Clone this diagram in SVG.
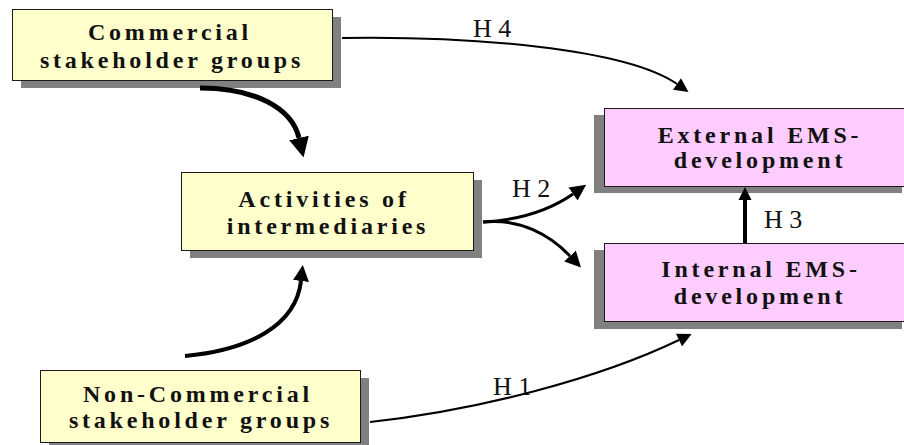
<svg xmlns="http://www.w3.org/2000/svg" width="904" height="445" viewBox="0 0 904 445">
  <style>
    .shadow { fill: #808080; }
    .yellow { fill: #FFFFCC; stroke: #1a1a1a; stroke-width: 1; }
    .pink { fill: #FFCCFF; stroke: #1a1a1a; stroke-width: 1; }
    .lbl { font-family: "Liberation Serif", "Times New Roman", serif; font-weight: bold; font-size: 24px; letter-spacing: 3.8px; fill: #111; text-anchor: middle; }
    .h { font-family: "Liberation Serif", "Times New Roman", serif; font-size: 26px; fill: #111; }
    .c { fill: none; stroke: #000; }
  </style>
  <defs>
    <marker id="aThin" markerUnits="userSpaceOnUse" viewBox="0 0 10 10" refX="0" refY="5" markerWidth="15" markerHeight="14" orient="auto">
      <path d="M0,0 L10,5 L0,10 z" fill="#000"/>
    </marker>
    <marker id="aMid" markerUnits="userSpaceOnUse" viewBox="0 0 10 10" refX="0" refY="5" markerWidth="16" markerHeight="17" orient="auto">
      <path d="M0,0 L10,5 L0,10 z" fill="#000"/>
    </marker>
    <marker id="aBig" markerUnits="userSpaceOnUse" viewBox="0 0 10 10" refX="0" refY="5" markerWidth="20" markerHeight="26" orient="auto">
      <path d="M0,0 L10,5 L0,10 z" fill="#000"/>
    </marker>
    <marker id="aUp" markerUnits="userSpaceOnUse" viewBox="0 0 10 10" refX="0" refY="5" markerWidth="16" markerHeight="21" orient="auto">
      <path d="M0,0 L10,5 L0,10 z" fill="#000"/>
    </marker>
    <marker id="aH3" markerUnits="userSpaceOnUse" viewBox="0 0 10 10" refX="0" refY="5" markerWidth="13" markerHeight="19" orient="auto">
      <path d="M0,0 L10,5 L0,10 z" fill="#000"/>
    </marker>
  </defs>

  <g id="commercial">
    <rect class="shadow" x="21" y="17" width="320" height="71"/>
    <rect class="yellow" x="12.5" y="9.5" width="320" height="71"/>
    <text class="lbl" x="170" y="40">Commercial</text>
    <text class="lbl" x="172" y="68">stakeholder groups</text>
  </g>

  <g id="activities">
    <rect class="shadow" x="190" y="180" width="292" height="78"/>
    <rect class="yellow" x="181.5" y="172.5" width="292" height="78"/>
    <text class="lbl" x="324" y="207">Activities of</text>
    <text class="lbl" x="328" y="234">intermediaries</text>
  </g>

  <g id="noncommercial">
    <rect class="shadow" x="49" y="378" width="320" height="72"/>
    <rect class="yellow" x="40.5" y="370.5" width="320" height="72"/>
    <text class="lbl" x="198" y="402">Non-Commercial</text>
    <text class="lbl" x="201" y="428">stakeholder groups</text>
  </g>

  <g id="external">
    <rect class="shadow" x="594" y="115" width="308" height="78"/>
    <rect class="pink" x="604.5" y="108.5" width="308" height="78"/>
    <text class="lbl" x="760" y="143">External EMS-</text>
    <text class="lbl" x="760" y="168">development</text>
  </g>

  <g id="internal">
    <rect class="shadow" x="594" y="250" width="308" height="79"/>
    <rect class="pink" x="604.5" y="243.5" width="308" height="78"/>
    <text class="lbl" x="761" y="277">Internal EMS-</text>
    <text class="lbl" x="760" y="304">development</text>
  </g>

  <g id="connectors">
    <path class="c" d="M342,38 C470,36 625,48 677,84" stroke-width="2" marker-end="url(#aThin)"/>
    <path class="c" d="M200,88 C255,88 292,108 299,138" stroke-width="5" marker-end="url(#aBig)"/>
    <path class="c" d="M185,356 C250,350 296,325 301,281" stroke-width="4" marker-end="url(#aUp)"/>
    <path class="c" d="M483,222 C520,220 550,210 573,194" stroke-width="3" marker-end="url(#aMid)"/>
    <path class="c" d="M483,222 C520,218 550,235 570,256" stroke-width="3" marker-end="url(#aMid)"/>
    <path class="c" d="M745,243 L745,200" stroke-width="4" marker-end="url(#aH3)"/>
    <path class="c" d="M370,422 C480,410 600,378 679,340" stroke-width="2" marker-end="url(#aThin)"/>
    <text class="h" x="473" y="37">H 4</text>
    <text class="h" x="512" y="197">H 2</text>
    <text class="h" x="764" y="228">H 3</text>
    <text class="h" x="493" y="395">H 1</text>
  </g>
</svg>
